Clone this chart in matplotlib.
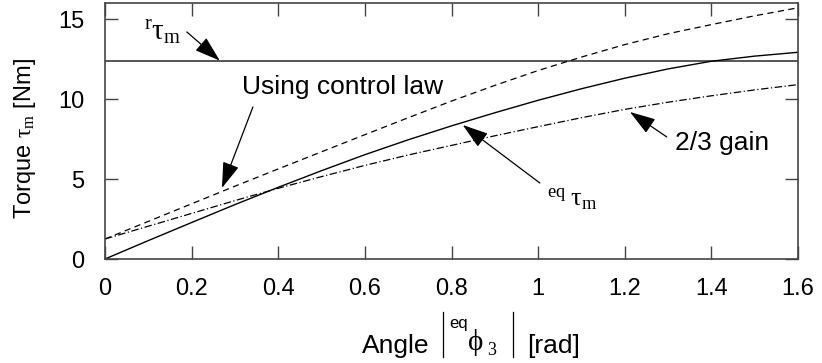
import matplotlib
matplotlib.use("Agg")
import matplotlib.pyplot as plt
from matplotlib.lines import Line2D

plt.rcParams['font.family'] = ['Liberation Sans', 'DejaVu Sans']
plt.rcParams['mathtext.fontset'] = 'custom'
plt.rcParams['mathtext.rm'] = 'Liberation Serif'
plt.rcParams['mathtext.it'] = 'Liberation Serif'
plt.rcParams['mathtext.sf'] = 'Liberation Sans'

# Data
angle = [0.0, 0.1, 0.2, 0.3, 0.4, 0.5, 0.6, 0.7, 0.8, 0.9, 1.0, 1.1, 1.2, 1.3, 1.4, 1.5, 1.6]
tau_eq = [0.0, 1.15, 2.28, 3.4, 4.48, 5.52, 6.52, 7.45, 8.32, 9.14, 9.92, 10.64, 11.3, 11.88, 12.36, 12.68, 12.92]
tau_control = [1.25, 2.35, 3.45, 4.55, 5.63, 6.7, 7.77, 8.83, 9.87, 10.85, 11.78, 12.62, 13.4, 14.08, 14.65, 15.2, 15.7]
tau_two_thirds = [1.25, 2.05, 2.85, 3.65, 4.42, 5.15, 5.85, 6.5, 7.1, 7.7, 8.27, 8.83, 9.35, 9.8, 10.2, 10.57, 10.9]
tau_r = 12.4

xticks = [0, 0.2, 0.4, 0.6, 0.8, 1.0, 1.2, 1.4, 1.6]
xticklabels = ['0', '0.2', '0.4', '0.6', '0.8', '1', '1.2', '1.4', '1.6']
yticks = [0, 5, 10, 15]

W, H = 822, 363
fig = plt.figure(figsize=(W / 100, H / 100), dpi=100)
ax = fig.add_axes([105 / W, (H - 259) / H, (798 - 105) / W, (259 - 3) / H])

ax.axhline(tau_r, color='#555555', lw=1.4)
ax.plot(angle, tau_control, color='black', lw=0.9, ls=(0, (5, 3.5)))
ax.plot(angle, tau_eq, color='black', lw=1.0, ls='-')
ax.plot(angle, tau_two_thirds, color='black', lw=0.9, ls=(0, (6, 2, 1, 2)))

ax.set_xlim(0, 1.6)
ax.set_ylim(0, 16)
ax.set_xticks(xticks)
ax.set_xticklabels(xticklabels)
ax.set_yticks(yticks)
ax.tick_params(direction='in', length=9.5, width=1.0, color='#444444',
               top=True, right=True, labelsize=17, pad=15)
ax.tick_params(axis='x', pad=14)
for s in ax.spines.values():
    s.set_color('#444444')
    s.set_linewidth(1.2)

arrow = dict(arrowstyle='-|>,head_length=0.8,head_width=0.26', color='black',
             lw=0.9, shrinkA=0, shrinkB=0, mutation_scale=20)

# r tau_m
ax.annotate('', xy=(0.265, tau_r), xytext=(0.189, 14.19), arrowprops=arrow)
ax.text(0.176, 14.1, r'$^{\mathrm{r}}\tau_{\mathrm{m}}$', fontsize=21, ha='right', va='center')

# Using control law
ax.annotate('', xy=(0.27, 4.44), xytext=(0.3415, 9.5), arrowprops=arrow)
ax.text(0.316, 10.75, 'Using control law', fontsize=19, ha='left', va='center')

# 2/3 gain
ax.annotate('', xy=(1.212, 9.19), xytext=(1.297, 7.63), arrowprops=arrow)
ax.text(1.315, 7.25, '2/3 gain', fontsize=19, ha='left', va='center')

# eq tau_m
ax.annotate('', xy=(0.826, 8.375), xytext=(1.004, 4.75), arrowprops=arrow)
ax.text(1.02, 3.75, r'$^{\mathrm{eq}}\;\tau_{\mathrm{m}}$', fontsize=19, ha='left', va='center')

# y label
fig.text(25 / W, 1 - 138 / H, r'Torque $\tau_{\mathrm{m}}$ [Nm]', rotation=90,
         fontsize=17, ha='center', va='center')

# x label built from pieces
def fx(px):
    return px / W

def fy(py):
    return 1 - py / H

fig.text(fx(362), fy(353), 'Angle', fontsize=19, ha='left', va='baseline')
fig.text(fx(449), fy(328), 'eq', fontsize=12, ha='left', va='baseline')
fig.text(fx(467), fy(350), r'$\phi$', fontsize=21, ha='left', va='baseline')
fig.text(fx(487), fy(355), r'$\mathrm{3}$', fontsize=13, ha='left', va='baseline')
fig.text(fx(527), fy(353), '[rad]', fontsize=19, ha='left', va='baseline')
for bx in (443, 513):
    fig.add_artist(Line2D([fx(bx), fx(bx)], [fy(312), fy(357)],
                          transform=fig.transFigure, color='black', lw=0.9))

fig.savefig('out.png', dpi=100)
